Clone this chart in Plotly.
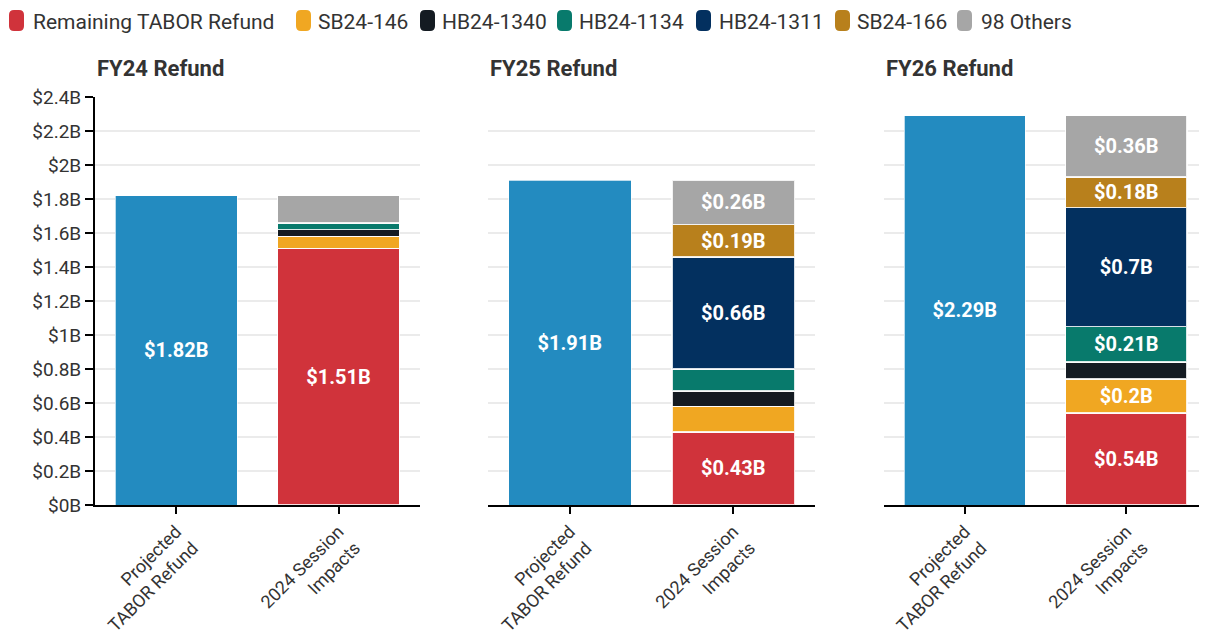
import plotly.graph_objects as go
from plotly.subplots import make_subplots

panels = ["FY24 Refund", "FY25 Refund", "FY26 Refund"]
categories = ["Projected<br>TABOR Refund", "2024 Session<br>Impacts"]
projected = [1.82, 1.91, 2.29]

series_names = ["Remaining TABOR Refund", "SB24-146", "HB24-1340", "HB24-1134",
                "HB24-1311", "SB24-166", "98 Others"]
remaining = [1.51, 0.43, 0.54]
sb24_146 = [0.07, 0.15, 0.20]
hb24_1340 = [0.04, 0.09, 0.10]
hb24_1134 = [0.04, 0.13, 0.21]
hb24_1311 = [0.0, 0.66, 0.70]
sb24_166 = [0.0, 0.19, 0.18]
others = [0.16, 0.26, 0.36]
series_values = [remaining, sb24_146, hb24_1340, hb24_1134, hb24_1311, sb24_166, others]

projected_color = "#238bc0"
series_colors = ["#d0333b", "#f0a722", "#141b22", "#087a6c", "#03305f", "#b8801c", "#a6a6a6"]

yticks = [i * 0.2 for i in range(13)]
yticklabels = ["$0B", "$0.2B", "$0.4B", "$0.6B", "$0.8B", "$1B", "$1.2B", "$1.4B",
               "$1.6B", "$1.8B", "$2B", "$2.2B", "$2.4B"]

# legend layout (pixel offsets relative to plot-area left edge)
legend_symbol_x = [-86, 201, 325, 462, 601, 740, 862]
legend_text_x = [-63, 222, 346, 483, 623, 761, 885]

LABEL_MIN = 0.175
FONT = "Roboto"
TXT = "#333333"

fig = make_subplots(rows=1, cols=3, shared_yaxes=False, horizontal_spacing=0.06)

def fmt(v):
    return f"${v:g}B"

for p in range(3):
    col = p + 1
    fig.add_trace(go.Bar(
        x=[categories[0]], y=[projected[p]], name="Projected TABOR Refund",
        marker=dict(color=projected_color, line=dict(color="rgba(255,255,255,0.7)", width=1)),
        text=[fmt(projected[p])], textposition="inside", insidetextanchor="middle",
        textfont=dict(color="white", size=20, family=FONT, weight="bold"),
        constraintext="none", showlegend=False, width=0.75, hoverinfo="skip"),
        row=1, col=col)
    for s, name in enumerate(series_names):
        v = series_values[s][p]
        fig.add_trace(go.Bar(
            x=[categories[1]], y=[v if v > 0 else None], name=name,
            legendgroup=name, showlegend=False,
            marker=dict(color=series_colors[s], line=dict(color="rgba(255,255,255,0.85)", width=1.5)),
            text=[fmt(v) if v >= LABEL_MIN else ""], textposition="inside",
            insidetextanchor="middle",
            textfont=dict(color="white", size=20, family=FONT, weight="bold"),
            constraintext="none", width=0.75, hoverinfo="skip"),
            row=1, col=col)

domains = [[0.0, 0.292], [0.3535, 0.6475], [0.7095, 1.0]]
for p in range(3):
    xa = "xaxis" if p == 0 else f"xaxis{p+1}"
    ya = "yaxis" if p == 0 else f"yaxis{p+1}"
    fig.layout[xa].update(
        domain=domains[p], type="category", categoryorder="array", categoryarray=categories,
        range=[-0.5, 1.5], showline=True, linecolor="black", linewidth=2, automargin=False,
        ticks="outside", ticklen=7, tickwidth=2, tickcolor="black", tickangle=-45,
        tickfont=dict(family=FONT, size=18, color=TXT), showgrid=False)
    fig.layout[ya].update(
        range=[0, 2.4], tickvals=yticks, ticktext=yticklabels, automargin=False,
        showgrid=True, gridcolor="#ebebeb", gridwidth=2, zeroline=False,
        showticklabels=(p == 0), showline=(p == 0), linecolor="black", linewidth=2,
        ticks="outside" if p == 0 else "", ticklen=8, tickwidth=2, tickcolor="black",
        tickfont=dict(family=FONT, size=19, color=TXT))
    fig.add_annotation(text=f"<b>{panels[p]}</b>", xref="paper", yref="paper",
                       x=domains[p][0], y=1.0, yshift=29,
                       xanchor="left", yanchor="middle", showarrow=False,
                       font=dict(family=FONT, size=22, color=TXT))

# custom legend with rounded swatches
def rounded(x0, y0, x1, y1, r):
    return (f"M {x0+r},{y0} L {x1-r},{y0} Q {x1},{y0} {x1},{y0+r} "
            f"L {x1},{y1-r} Q {x1},{y1} {x1-r},{y1} L {x0+r},{y1} "
            f"Q {x0},{y1} {x0},{y1-r} L {x0},{y0+r} Q {x0},{y0} {x0+r},{y0} Z")

for s, name in enumerate(series_names):
    sx = legend_symbol_x[s]
    fig.add_shape(type="path", xref="paper", yref="paper",
                  xsizemode="pixel", ysizemode="pixel", xanchor=0, yanchor=1,
                  path=rounded(sx, 66, sx + 15, 87, 5),
                  fillcolor=series_colors[s], line=dict(width=0))
    fig.add_annotation(text=name, xref="paper", yref="paper", x=0, y=1,
                       xshift=legend_text_x[s], yshift=75, xanchor="left", yanchor="middle",
                       borderpad=0, showarrow=False,
                       font=dict(family=FONT, size=21, color=TXT))

fig.update_layout(
    barmode="stack", bargap=0.25,
    width=1199, height=631,
    margin=dict(l=87, r=0, t=89, b=134),
    paper_bgcolor="white", plot_bgcolor="white",
    font=dict(family=FONT, size=19, color=TXT),
    showlegend=False,
)

fig.write_html("out.html")
